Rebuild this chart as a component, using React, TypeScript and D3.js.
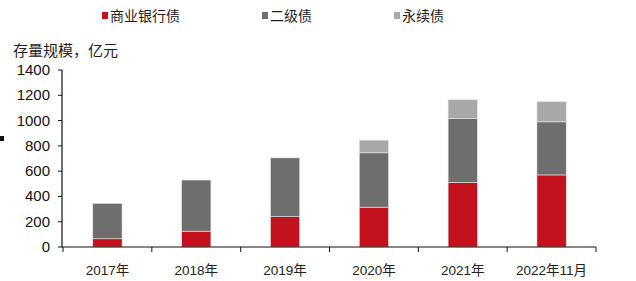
import React from "react";
import * as d3 from "d3";

const categories = ["2017年", "2018年", "2019年", "2020年", "2021年", "2022年11月"];
const bankBonds = [65, 125, 240, 315, 510, 570];
const tier2Bonds = [280, 405, 465, 430, 505, 420];
const perpetualBonds = [0, 0, 0, 100, 150, 160];
const seriesNames = ["商业银行债", "二级债", "永续债"];
const seriesColors = ["#C3111E", "#6E6E6E", "#A8A8A8"];
const yTicks = [0, 200, 400, 600, 800, 1000, 1200, 1400];

const W = 636, H = 281;
const FONT = "'Liberation Sans', Arial, 'Noto Sans CJK SC', sans-serif";

export default function App() {
  const x = d3.scaleBand<string>().domain(categories).range([63, 596]).paddingInner(0.67).paddingOuter(0.335);
  const y = d3.scaleLinear().domain([0, 1400]).range([247, 70]);
  const rows = categories.map((c, i) => ({ cat: c, bank: bankBonds[i], tier2: tier2Bonds[i], perp: perpetualBonds[i] }));
  const stack = d3.stack<any>().keys(["bank", "tier2", "perp"])(rows);
  const step = (596 - 63) / categories.length;
  const legendX = [102, 262, 394];

  return (
    <svg width={W} height={H} style={{ position: "absolute", left: 0, top: 0, background: "#fff" }} fontFamily={FONT}>
      <rect x={0} y={0} width={W} height={H} fill="#fff" />
      {/* legend */}
      {seriesNames.map((n, i) => (
        <g key={n}>
          <rect x={legendX[i]} y={12} width={6} height={7} fill={seriesColors[i]} />
          <text x={legendX[i] + 8} y={21} fontSize={14} fill="#222">{n}</text>
        </g>
      ))}
      <text x={13} y={56} fontSize={15} fill="#222">存量规模，亿元</text>
      <rect x={0} y={136} width={4} height={5} fill="#111" />
      {/* bars */}
      {stack.map((s, si) => (
        <g key={si}>
          {s.map((d: any, i: number) => d[1] - d[0] > 0 ? (
            <rect key={i} x={x(categories[i])!} y={y(d[1])} width={x.bandwidth()} height={y(d[0]) - y(d[1])}
              fill={seriesColors[si]} stroke="#e8e8e8" strokeWidth={0.6} />
          ) : null)}
        </g>
      ))}
      {/* y axis */}
      <line x1={62} x2={62} y1={70} y2={247} stroke="#111" strokeWidth={1.2} />
      {yTicks.map(t => (
        <g key={t}>
          <line x1={58} x2={62} y1={y(t)} y2={y(t)} stroke="#111" />
          <text x={50} y={y(t) + 5} fontSize={15} textAnchor="end" fill="#111">{t}</text>
        </g>
      ))}
      {/* x axis */}
      <line x1={62} x2={596} y1={247} y2={247} stroke="#111" strokeWidth={1.2} />
      {d3.range(categories.length + 1).map(i => (
        <line key={i} x1={63 + i * step} x2={63 + i * step} y1={247} y2={252} stroke="#111" />
      ))}
      {categories.map(c => (
        <text key={c} x={x(c)! + x.bandwidth() / 2} y={275} fontSize={13.5} textAnchor="middle" fill="#222">{c}</text>
      ))}
    </svg>
  );
}
